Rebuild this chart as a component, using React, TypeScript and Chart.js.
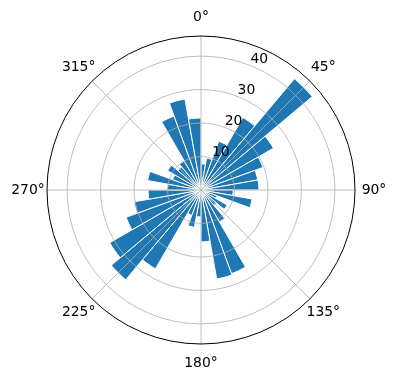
import React, { useEffect, useRef } from 'react';
import { Chart, registerables } from 'chart.js';

Chart.register(...registerables);

// 36 direction bins of 10° each (start angle of each bin, clockwise from north)
const binStarts: number[] = [
  0, 10, 20, 30, 40, 50, 60, 70, 80, 90, 100, 110,
  120, 130, 140, 150, 160, 170, 180, 190, 200, 210, 220, 230,
  240, 250, 260, 270, 280, 290, 300, 310, 320, 330, 340, 350,
];
const binValues: number[] = [
  7.8, 9.7, 15.5, 25, 43.4, 25, 19.7, 17.2, 17.3, 9.6, 15.5, 5,
  9, 6, 11, 26.6, 27, 15.5, 8, 11.3, 8, 27.2, 35, 31.5,
  23.8, 20.3, 15.8, 10, 16.2, 9, 11.5, 9, 10, 23.5, 27.6, 21.5,
];
const radialTicks: number[] = [10, 20, 30, 40];
const radialMax = 46;
const angleTicks: number[] = [0, 45, 90, 135, 180, 225, 270, 315];
const angleTickLabels: string[] = ['0°', '45°', '90°', '135°', '180°', '225°', '270°', '315°'];

const FONT = '13.9px "DejaVu Sans"';

const decorPlugin = {
  id: 'polarDecor',
  afterDatasetsDraw(chart: any) {
    const scale = chart.scales.r;
    const ctx = chart.ctx as CanvasRenderingContext2D;
    const cx = scale.xCenter;
    const cy = scale.yCenter;
    const R = scale.getDistanceFromCenterForValue(radialMax);
    ctx.save();
    // radial grid circles
    ctx.strokeStyle = '#b0b0b0';
    ctx.lineWidth = 0.8;
    radialTicks.forEach((v) => {
      const r = scale.getDistanceFromCenterForValue(v);
      ctx.beginPath();
      ctx.arc(cx, cy, r, 0, Math.PI * 2);
      ctx.stroke();
    });
    // angular grid lines
    angleTicks.forEach((deg) => {
      const a = (deg * Math.PI) / 180 - Math.PI / 2;
      ctx.beginPath();
      ctx.moveTo(cx, cy);
      ctx.lineTo(cx + R * Math.cos(a), cy + R * Math.sin(a));
      ctx.stroke();
    });
    // outer spine
    ctx.strokeStyle = '#000000';
    ctx.lineWidth = 1;
    ctx.beginPath();
    ctx.arc(cx, cy, R, 0, Math.PI * 2);
    ctx.stroke();
    // angle labels
    ctx.fillStyle = '#000000';
    ctx.font = FONT;
    ctx.textAlign = 'center';
    ctx.textBaseline = 'middle';
    angleTicks.forEach((deg, i) => {
      const a = (deg * Math.PI) / 180 - Math.PI / 2;
      const d = R + 19;
      ctx.fillText(angleTickLabels[i], cx + d * Math.cos(a), cy + d * Math.sin(a));
    });
    // radial labels at 22.5°
    const ra = (22.5 * Math.PI) / 180 - Math.PI / 2;
    radialTicks.forEach((v) => {
      const r = scale.getDistanceFromCenterForValue(v);
      ctx.fillText(String(v), cx + r * Math.cos(ra) + 7, cy + r * Math.sin(ra) - 6.5);
    });
    ctx.restore();
  },
};

export default function App() {
  const canvasRef = useRef<HTMLCanvasElement | null>(null);

  useEffect(() => {
    document.body.style.margin = '0';
    const canvas = canvasRef.current;
    if (!canvas) return;
    const chart = new Chart(canvas, {
      type: 'polarArea',
      data: {
        labels: binStarts.map((s) => `${s}°–${s + 10}°`),
        datasets: [
          {
            data: binValues,
            backgroundColor: '#1f77b4',
            borderColor: '#ffffff',
            borderWidth: 1,
          },
        ],
      },
      options: {
        responsive: false,
        animation: false,
        layout: { padding: { top: 36, bottom: 36, left: 47, right: 41 } },
        plugins: { legend: { display: false }, tooltip: { enabled: false } },
        scales: {
          r: {
            min: 0,
            max: radialMax,
            startAngle: 0,
            ticks: { display: false, stepSize: 10 },
            grid: { display: false },
            angleLines: { display: false },
            pointLabels: { display: false },
          },
        },
      },
      plugins: [decorPlugin],
    });
    return () => chart.destroy();
  }, []);

  return (
    <div style={{ width: 396, height: 380, background: '#ffffff' }}>
      <canvas ref={canvasRef} width={396} height={380} />
    </div>
  );
}
